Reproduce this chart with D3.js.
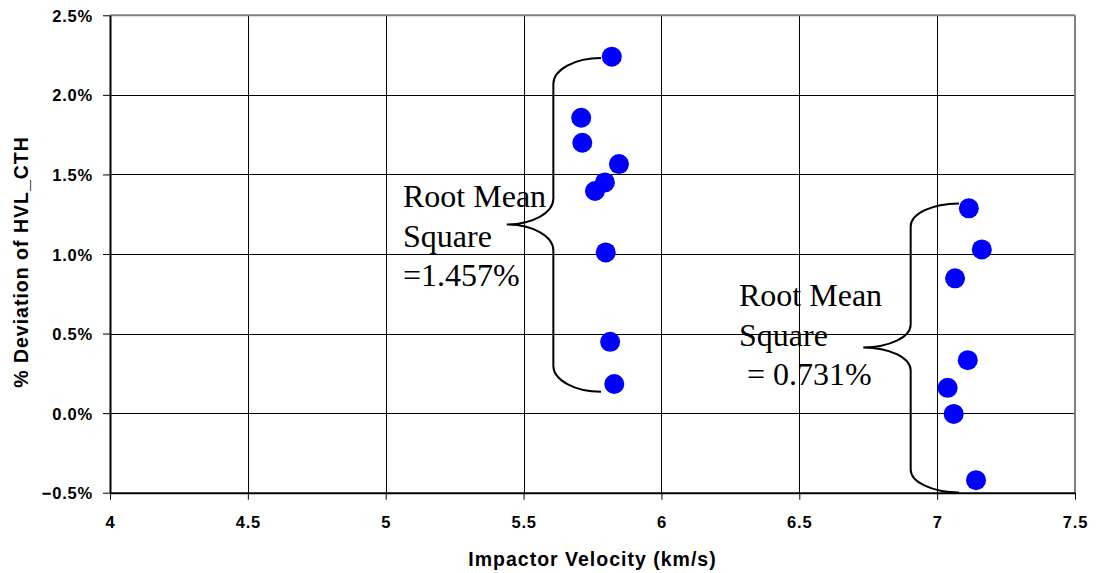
<!DOCTYPE html>
<html>
<head>
<meta charset="utf-8">
<script src="https://cdn.jsdelivr.net/npm/d3@7"></script>
<style>
  html, body { margin: 0; padding: 0; background: #fff; }
  svg { display: block; }
</style>
</head>
<body>
<svg id="chart" width="1096" height="573"></svg>
<script>
// Impactor velocity (km/s) and % deviation of HVL_CTH, two test groups
const groupAVelocity  = [5.820, 5.709, 5.713, 5.846, 5.795, 5.759, 5.798, 5.814, 5.829];
const groupADeviation = [2.240, 1.856, 1.699, 1.565, 1.450, 1.396, 1.010, 0.448, 0.183];
const groupBVelocity  = [7.115, 7.162, 7.065, 7.111, 7.038, 7.060, 7.141];
const groupBDeviation = [1.287, 1.029, 0.847, 0.333, 0.159, -0.005, -0.421];

// Axis ticks
const xTickValues = [4, 4.5, 5, 5.5, 6, 6.5, 7, 7.5];
const yTickValues = [-0.5, 0, 0.5, 1.0, 1.5, 2.0, 2.5];

// Brace annotations: [end velocity, spine velocity, tip velocity, top %, tip %, bottom %]
const braceA = [5.781, 5.608, 5.439, 2.232, 1.186, 0.134];
const braceB = [7.079, 6.904, 6.732, 1.318, 0.413, -0.498];

// RMS annotation text lines
const labelA = ["Root Mean", "Square", "=1.457%"];
const labelB = ["Root Mean", "Square", "\u00a0= 0.731%"];

(function () {
  const svg = d3.select("#chart");
  svg.append("rect").attr("width", 1096).attr("height", 573).attr("fill", "#fff");

  const pl = 110, pr = 1075, pt = 15.3, pb = 492.7;
  const x = d3.scaleLinear().domain([4, 7.5]).range([pl, pr]);
  const y = d3.scaleLinear().domain([-0.5, 2.5]).range([pb, pt]);

  const tickFont = "'Liberation Sans', Arial, sans-serif";

  // Gridlines
  const grid = svg.append("g");
  grid.selectAll("line.h").data(yTickValues.slice(1, -1)).join("line")
    .attr("x1", pl).attr("x2", pr)
    .attr("y1", d => Math.round(y(d)) + 0.5).attr("y2", d => Math.round(y(d)) + 0.5)
    .attr("stroke", "#000").attr("stroke-width", 1);
  grid.selectAll("line.v").data(xTickValues.slice(1, -1)).join("line")
    .attr("y1", pt).attr("y2", pb)
    .attr("x1", d => Math.round(x(d)) + 0.5).attr("x2", d => Math.round(x(d)) + 0.5)
    .attr("stroke", "#000").attr("stroke-width", 1);

  // Plot frame: grey top/right, black axes left/bottom
  svg.append("line").attr("x1", pl).attr("x2", pr).attr("y1", pt).attr("y2", pt)
    .attr("stroke", "#808080").attr("stroke-width", 2);
  svg.append("line").attr("x1", pr).attr("x2", pr).attr("y1", pt).attr("y2", pb)
    .attr("stroke", "#808080").attr("stroke-width", 2);

  // Axes
  const yAxis = d3.axisLeft(y).tickValues(yTickValues).tickSize(7).tickSizeOuter(0)
    .tickFormat(d => d3.format(".1f")(d) + "%");
  const gy = svg.append("g").attr("transform", `translate(${pl},0)`).call(yAxis);
  gy.select(".domain").attr("stroke", "#000").attr("stroke-width", 2);
  gy.selectAll(".tick line").attr("stroke", "#000").attr("stroke-width", 1);
  gy.selectAll(".tick text")
    .attr("x", -17).attr("dy", "0.37em")
    .attr("font-family", tickFont).attr("font-weight", "bold")
    .attr("font-size", 16.5).attr("letter-spacing", 0.8).attr("fill", "#000");

  const xAxis = d3.axisBottom(x).tickValues(xTickValues).tickSize(7).tickSizeOuter(0)
    .tickFormat(d3.format("~g"));
  const gx = svg.append("g").attr("transform", `translate(0,${pb})`).call(xAxis);
  gx.select(".domain").attr("stroke", "#000").attr("stroke-width", 2);
  gx.selectAll(".tick line").attr("stroke", "#000").attr("stroke-width", 1);
  gx.selectAll(".tick text")
    .attr("y", 35.5).attr("dy", 0)
    .attr("font-family", tickFont).attr("font-weight", "bold")
    .attr("font-size", 16.5).attr("letter-spacing", 0.8).attr("fill", "#000");

  // Axis titles
  svg.append("text")
    .attr("x", (pl + pr) / 2).attr("y", 566)
    .attr("text-anchor", "middle")
    .attr("font-family", tickFont).attr("font-weight", "bold")
    .attr("font-size", 19.5).attr("letter-spacing", 1)
    .text("Impactor Velocity (km/s)");
  svg.append("text")
    .attr("transform", `translate(28,${(pt + pb) / 2 + 8}) rotate(-90)`)
    .attr("text-anchor", "middle")
    .attr("font-family", tickFont).attr("font-weight", "bold")
    .attr("font-size", 19.5).attr("letter-spacing", 1)
    .text("% Deviation of HVL_CTH");

  // Curly braces around each group
  function bracePath(b, ry) {
    const ex = x(b[0]), sx = x(b[1]), tx = x(b[2]);
    const ty = y(b[3]), my = y(b[4]), by = y(b[5]);
    const r1 = ex - sx, r2 = sx - tx;
    return [
      `M${ex},${ty}`,
      `A${r1},${ry} 0 0 0 ${sx},${ty + ry}`,
      `L${sx},${my - ry}`,
      `A${r2},${ry} 0 0 1 ${tx},${my}`,
      `A${r2},${ry} 0 0 1 ${sx},${my + ry}`,
      `L${sx},${by - ry}`,
      `A${r1},${ry} 0 0 0 ${ex},${by}`
    ].join(" ");
  }
  svg.append("path").attr("d", bracePath(braceA, 26))
    .attr("fill", "none").attr("stroke", "#000").attr("stroke-width", 2);
  svg.append("path").attr("d", bracePath(braceB, 23))
    .attr("fill", "none").attr("stroke", "#000").attr("stroke-width", 2);

  // Scatter points
  const pointsA = groupAVelocity.map((v, i) => ({ v, d: groupADeviation[i] }));
  const pointsB = groupBVelocity.map((v, i) => ({ v, d: groupBDeviation[i] }));
  svg.append("g").selectAll("circle").data(pointsA.concat(pointsB)).join("circle")
    .attr("cx", p => x(p.v)).attr("cy", p => y(p.d)).attr("r", 10)
    .attr("fill", "#0000ff");

  // RMS annotations
  function addLabel(lines, lx, ly) {
    const t = svg.append("text")
      .attr("font-family", "'Liberation Serif', 'Times New Roman', serif")
      .attr("font-size", 32).attr("fill", "#000");
    lines.forEach((s, i) => {
      t.append("tspan").attr("x", lx).attr("y", ly + i * 39.5).text(s);
    });
  }
  addLabel(labelA, 403, 207);
  addLabel(labelB, 739, 306);
})();
</script>
</body>
</html>
